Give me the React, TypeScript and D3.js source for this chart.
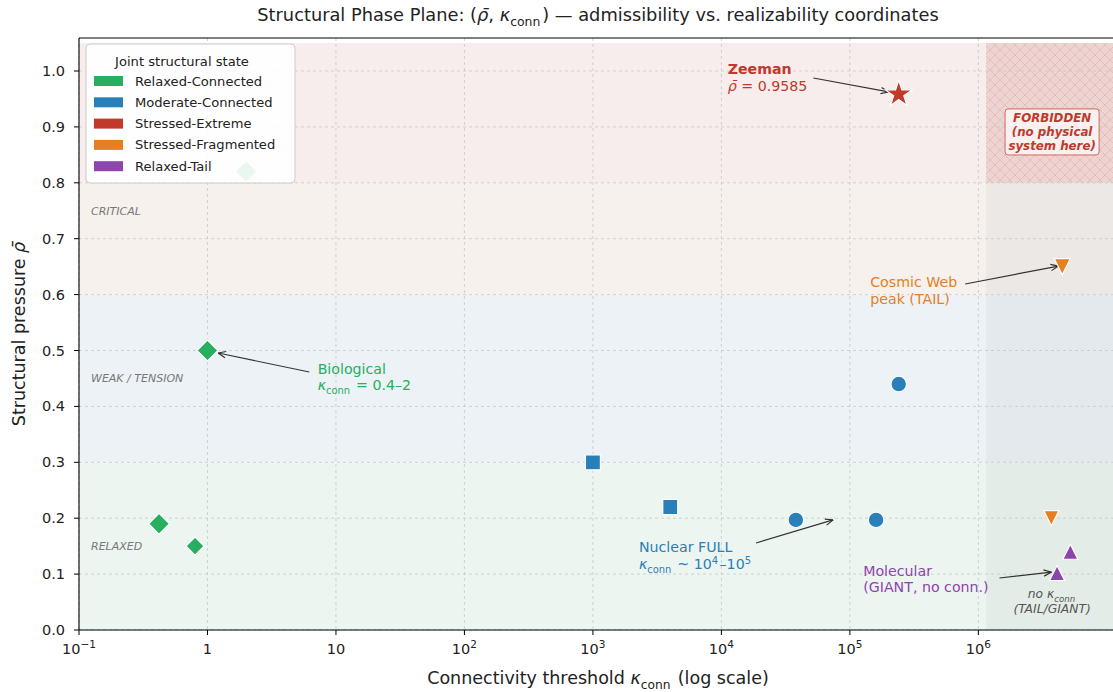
import * as d3 from "d3";

const W = 1113;
const H = 692;
const plot = { left: 79, right: 1117, top: 38, bottom: 630 };

// axes
const xDomain = [0.1, 1.2e7];
const yDomain = [0, 1.06];
const xTicks = [0.1, 1, 10, 100, 1e3, 1e4, 1e5, 1e6];
const yTicks = [0, 0.1, 0.2, 0.3, 0.4, 0.5, 0.6, 0.7, 0.8, 0.9, 1.0];

// background regimes (rho bands)
const bandEdges = [0, 0.3, 0.6, 0.8, 1.05];
const bandNames = ["RELAXED", "WEAK / TENSION", "CRITICAL", "BOUNDARY"];
const bandLabelRho = [0.15, 0.45, 0.75, 0.97];
const bandFills = ["#edf5f0", "#edf2f6", "#f6f1ed", "#f8eded"];
const tailStart = 1.15e6;
const forbiddenRho = [0.8, 1.05];

// joint structural states
const stateNames = [
  "Relaxed-Connected",
  "Moderate-Connected",
  "Stressed-Extreme",
  "Stressed-Fragmented",
  "Relaxed-Tail",
];
const stateColors = ["#27ae60", "#2980b9", "#c0392b", "#e67e22", "#8e44ad"];

// points: [kappa_conn, rho_bar]
const relaxedConnected = [[0.42, 0.19], [0.8, 0.15], [1.0, 0.5], [2.0, 0.82]];
const relaxedConnectedR = [10.5, 9, 10.5, 11];
const moderateSquares = [[1000, 0.3], [4000, 0.22]];
const moderateCircles = [[3.8e4, 0.197], [1.6e5, 0.197], [2.4e5, 0.44]];
const stressedExtreme = [[2.4e5, 0.9585]];
const stressedFragmented = [[4.5e6, 0.65], [3.7e6, 0.2]];
const relaxedTail = [[5.2e6, 0.14], [4.1e6, 0.102]];

const x = d3.scaleLog().domain(xDomain).range([plot.left, plot.right]);
const y = d3.scaleLinear().domain(yDomain).range([plot.bottom, plot.bottom - 1.06 * 559]);

function markerPath(shape: string, r: number) {
  if (shape === "diamond") return `M0,${-r}L${r},0L0,${r}L${-r},0Z`;
  if (shape === "square") return `M${-r},${-r}H${r}V${r}H${-r}Z`;
  if (shape === "circle") return d3.symbol(d3.symbolCircle, Math.PI * r * r)() as string;
  if (shape === "triDown") return `M${-r},${-r}L${r},${-r}L0,${r}Z`;
  if (shape === "triUp") return `M0,${-r}L${r},${r}L${-r},${r}Z`;
  // 5-point star
  const pts: string[] = [];
  for (let i = 0; i < 10; i++) {
    const a = -Math.PI / 2 + (i * Math.PI) / 5;
    const rr = i % 2 === 0 ? r : r * 0.382;
    pts.push(`${(rr * Math.cos(a)).toFixed(2)},${(rr * Math.sin(a)).toFixed(2)}`);
  }
  return "M" + pts.join("L") + "Z";
}

const series = [
  { state: 0, shape: "diamond", pts: relaxedConnected, r: relaxedConnectedR },
  { state: 1, shape: "square", pts: moderateSquares, r: [7.5, 7.5] },
  { state: 1, shape: "circle", pts: moderateCircles, r: [7.8, 7.8, 7.8] },
  { state: 2, shape: "star", pts: stressedExtreme, r: [14] },
  { state: 3, shape: "triDown", pts: stressedFragmented, r: [8, 7.5] },
  { state: 4, shape: "triUp", pts: relaxedTail, r: [7.5, 7.5] },
];

// annotations: text anchor and arrow in data coords
const annotations = [
  { id: "zeeman", color: "#c0392b", at: [1.12e4, 0.995], from: [5.2e4, 0.9875], to: [2.0e5, 0.9625] },
  { id: "cosmic", color: "#e67e22", at: [1.44e5, 0.613], from: [7.9e5, 0.619], to: [4.2e6, 0.651] },
  { id: "bio", color: "#27ae60", at: [7.2, 0.458], from: [6.2, 0.4615], to: [1.21, 0.4955] },
  { id: "nuclear", color: "#2980b9", at: [2.28e3, 0.14], from: [1.86e4, 0.1556], to: [7.4e4, 0.197] },
  { id: "molecular", color: "#8e44ad", at: [1.27e5, 0.097], from: [1.46e6, 0.093], to: [3.7e6, 0.1035] },
];

const font = "DejaVu Sans, sans-serif";

function Kconn({ size }: { size: number }) {
  const d = size * 0.28;
  return (
    <>
      <tspan fontStyle="italic">κ</tspan>
      <tspan fontSize={size * 0.7} dy={d}>conn</tspan>
      <tspan dy={-d}>{"\u200a"}</tspan>
    </>
  );
}

function Sup({ t, size }: { t: string; size: number }) {
  const d = size * 0.38;
  return (
    <>
      <tspan fontSize={size * 0.7} dy={-d}>{t}</tspan>
      <tspan dy={d}>{"\u200a"}</tspan>
    </>
  );
}

function AnnotText({ id, color, at }: { id: string; color: string; at: number[] }) {
  const tx = x(at[0]);
  const ty = y(at[1]);
  const fs = 14.2;
  const lh = 16.5;
  if (id === "zeeman")
    return (
      <text x={tx} y={ty} fill={color} fontSize={fs} fontFamily={font}>
        <tspan fontWeight="bold">Zeeman</tspan>
        <tspan x={tx} dy={lh + 1}>
          <tspan fontStyle="italic">ρ̄</tspan> = 0.9585
        </tspan>
      </text>
    );
  if (id === "cosmic")
    return (
      <text x={tx} y={ty} fill={color} fontSize={fs} fontFamily={font}>
        <tspan>Cosmic Web</tspan>
        <tspan x={tx} dy={lh}>peak (TAIL)</tspan>
      </text>
    );
  if (id === "bio")
    return (
      <text x={tx} y={ty} fill={color} fontSize={fs} fontFamily={font}>
        <tspan>Biological</tspan>
        <tspan x={tx} dy={lh}>
          <Kconn size={fs} /> = 0.4–2
        </tspan>
      </text>
    );
  if (id === "nuclear")
    return (
      <text x={tx} y={ty} fill={color} fontSize={fs} fontFamily={font}>
        <tspan>Nuclear FULL</tspan>
        <tspan x={tx} dy={lh + 1}>
          <Kconn size={fs} /> ~ 10<Sup t="4" size={fs} />–10<Sup t="5" size={fs} />
        </tspan>
      </text>
    );
  return (
    <text x={tx} y={ty} fill={color} fontSize={fs} fontFamily={font}>
      <tspan>Molecular</tspan>
      <tspan x={tx} dy={lh}>(GIANT, no conn.)</tspan>
    </text>
  );
}

function tickLabel(v: number) {
  const e = Math.round(Math.log10(v));
  if (e === 0) return <tspan>1</tspan>;
  if (e === 1) return <tspan>10</tspan>;
  return (
    <>
      <tspan>10</tspan>
      <tspan fontSize={10.5} dy={-6}>{e === -1 ? "−1" : String(e)}</tspan>
    </>
  );
}

export default function App() {
  const xTail = x(tailStart);
  const legendX = 86;
  const legendY = 44;

  return (
    <svg
      width={W}
      height={H}
      style={{ position: "absolute", left: 0, top: 0, background: "#fff" }}
      fontFamily={font}
    >
      <defs>
        <clipPath id="plotClip">
          <rect x={plot.left} y={plot.top} width={plot.right - plot.left} height={plot.bottom - plot.top} />
        </clipPath>
        <pattern id="hatch" width={10} height={10} patternUnits="userSpaceOnUse">
          <path d="M0,0L10,10M10,0L0,10" stroke="#e6b0ac" strokeWidth={0.9} opacity={0.7} />
        </pattern>
        <marker id="arrowHead" viewBox="0 0 10 10" refX={9.5} refY={5} markerWidth={9} markerHeight={9} markerUnits="userSpaceOnUse" orient="auto">
          <path d="M1,1.5L9.5,5L1,8.5" fill="none" stroke="#333" strokeWidth={1.3} />
        </marker>
      </defs>

      {/* regime bands */}
      <g clipPath="url(#plotClip)">
        {bandFills.map((c, i) => (
          <rect
            key={i}
            x={plot.left}
            y={y(bandEdges[i + 1])}
            width={plot.right - plot.left}
            height={y(bandEdges[i]) - y(bandEdges[i + 1])}
            fill={c}
          />
        ))}
        {/* tail region */}
        <rect
          x={xTail}
          y={y(bandEdges[bandEdges.length - 1])}
          width={plot.right - xTail}
          height={y(0) - y(bandEdges[bandEdges.length - 1])}
          fill="#5a6466"
          opacity={0.06}
        />
        {/* forbidden */}
        <rect
          x={xTail}
          y={y(forbiddenRho[1])}
          width={plot.right - xTail}
          height={y(forbiddenRho[0]) - y(forbiddenRho[1])}
          fill="#e07a70"
          opacity={0.16}
        />
        <rect
          x={xTail}
          y={y(forbiddenRho[1])}
          width={plot.right - xTail}
          height={y(forbiddenRho[0]) - y(forbiddenRho[1])}
          fill="url(#hatch)"
        />
      </g>

      {/* grid */}
      <g stroke="#c8c8c8" strokeWidth={0.8} strokeDasharray="3,3">
        {xTicks.map((t) => (
          <line key={t} x1={x(t)} x2={x(t)} y1={plot.top} y2={plot.bottom} />
        ))}
        {yTicks.map((t) => (
          <line key={t} x1={plot.left} x2={plot.right} y1={y(t)} y2={y(t)} />
        ))}
      </g>

      {/* regime labels */}
      {bandNames.map((n, i) => (
        <text
          key={n}
          x={x(0.124)}
          y={y(bandLabelRho[i])}
          dy="0.35em"
          fontSize={11}
          fontStyle="italic"
          fill={i === 3 ? "#ffffff" : "#777"}
        >
          {n}
        </text>
      ))}

      {/* arrows */}
      {annotations.map((a) => (
        <line
          key={a.id}
          x1={x(a.from[0])}
          y1={y(a.from[1])}
          x2={x(a.to[0])}
          y2={y(a.to[1])}
          stroke="#333"
          strokeWidth={1.2}
          markerEnd="url(#arrowHead)"
        />
      ))}

      {/* points */}
      {series.map((s, si) =>
        s.pts.map((p, pi) => (
          <path
            key={`${si}-${pi}`}
            d={markerPath(s.shape, s.r[pi])}
            transform={`translate(${x(p[0])},${y(p[1])})`}
            fill={stateColors[s.state]}
            stroke="#fff"
            strokeWidth={1.2}
          />
        ))
      )}

      {/* annotation texts */}
      {annotations.map((a) => (
        <AnnotText key={a.id} id={a.id} color={a.color} at={a.at} />
      ))}

      {/* no kappa note */}
      <text x={x(3.75e6)} y={y(0.057)} textAnchor="middle" fontSize={12.3} fontStyle="italic" fill="#555">
        no <Kconn size={12.3} />
        <tspan x={x(3.75e6)} dy={14.5}>(TAIL/GIANT)</tspan>
      </text>

      {/* forbidden box */}
      <g transform={`translate(${x(3.75e6)},${y(0.891)})`}>
        <rect x={-47} y={-23} width={94} height={46} rx={3} fill="#fff" fillOpacity={0.7} stroke="#c0392b" strokeOpacity={0.7} strokeWidth={1} />
        <text textAnchor="middle" fontSize={11.8} fontWeight="bold" fontStyle="italic" fill="#c0392b">
          <tspan x={0} y={-10}>FORBIDDEN</tspan>
          <tspan x={0} y={4}>(no physical</tspan>
          <tspan x={0} y={18}>system here)</tspan>
        </text>
      </g>

      {/* legend */}
      <g>
        <rect x={legendX} y={legendY} width={209} height={139} rx={4} fill="#fff" fillOpacity={0.9} stroke="#cccccc" />
        <text x={legendX + 96} y={legendY + 17} dy="0.35em" textAnchor="middle" fontSize={13.1} fill="#222">
          Joint structural state
        </text>
        {stateNames.map((n, i) => (
          <g key={n} transform={`translate(${legendX + 8},${legendY + 37 + i * 21.3})`}>
            <rect x={0} y={-5} width={29} height={10} fill={stateColors[i]} />
            <text x={41} dy="0.35em" fontSize={13.1} fill="#222">
              {n}
            </text>
          </g>
        ))}
      </g>

      {/* frame */}
      <g stroke="#000" strokeWidth={1.1} fill="none">
        <line x1={plot.left} x2={plot.right} y1={plot.top} y2={plot.top} />
        <line x1={plot.left} x2={plot.right} y1={plot.bottom} y2={plot.bottom} />
        <line x1={plot.left} x2={plot.left} y1={plot.top} y2={plot.bottom} />
      </g>

      {/* y axis */}
      {yTicks.map((t) => (
        <g key={t} transform={`translate(${plot.left},${y(t)})`}>
          <line x1={-5} x2={0} stroke="#000" strokeWidth={1} />
          <text x={-14} dy="0.35em" textAnchor="end" fontSize={14.5} fill="#222">
            {t.toFixed(1)}
          </text>
        </g>
      ))}

      {/* x axis */}
      {xTicks.map((t) => (
        <g key={t} transform={`translate(${x(t)},${plot.bottom})`}>
          <line y1={0} y2={5} stroke="#000" strokeWidth={1} />
          <text y={24} textAnchor="middle" fontSize={14.5} fill="#222">
            {tickLabel(t)}
          </text>
        </g>
      ))}

      {/* axis labels */}
      <text x={(plot.left + plot.right) / 2} y={684} textAnchor="middle" fontSize={17.5} fill="#222">
        Connectivity threshold <Kconn size={17.5} /> (log scale)
      </text>
      <text
        transform={`translate(25,${(plot.top + plot.bottom) / 2}) rotate(-90)`}
        textAnchor="middle"
        fontSize={17.5}
        fill="#222"
      >
        Structural pressure <tspan fontStyle="italic">ρ̄</tspan>
      </text>

      {/* title */}
      <text x={(plot.left + plot.right) / 2} y={21} textAnchor="middle" fontSize={17.8} fill="#222">
        Structural Phase Plane: (<tspan fontStyle="italic">ρ̄</tspan>, <Kconn size={17.8} />) — admissibility vs.
        realizability coordinates
      </text>
    </svg>
  );
}
